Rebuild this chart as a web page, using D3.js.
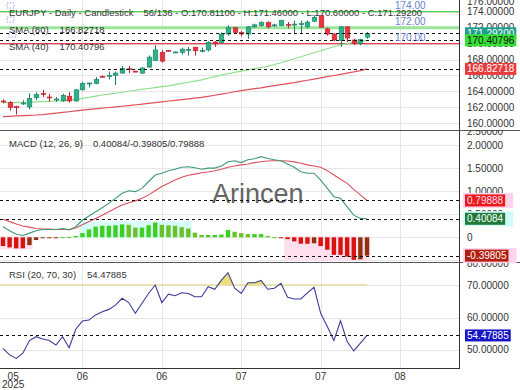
<!DOCTYPE html>
<html><head><meta charset="utf-8">
<script src="https://cdn.jsdelivr.net/npm/d3@7/dist/d3.min.js"></script>
<style>
body{margin:0;background:#fff;}
svg{display:block;font-family:"Liberation Sans",Arial,sans-serif;}
</style></head><body>
<svg id="c" width="520" height="390"></svg>
<script>
// ---------- data ----------
const opens  = [162.8,162.6,162.1,162.5,162.05,163.2,163.75,163.3,163.0,162.8,163.4,162.8,164.2,165.0,165.0,165.9,166.0,166.0,166.3,166.85,166.55,166.3,167.05,167.9,168.9,169.15,168.9,168.9,169.2,169.55,169.1,169.2,170.2,170.15,171.2,172.0,171.4,171.2,172.1,172.25,172.65,172.3,172.25,172.4,172.45,172.45,172.1,172.8,173.5,171.85,171.2,170.4,172.1,170.45,170.0,170.811];
const closes = [162.7,162.0,161.95,162.55,163.1,163.6,163.7,163.25,163.05,163.5,162.8,164.2,165.0,165.05,165.5,165.85,166.0,166.3,166.9,166.75,166.5,166.95,168.3,169.2,167.8,169.1,168.95,169.3,169.25,169.1,169.15,170.15,169.95,171.2,172.0,171.4,171.2,172.1,172.35,172.65,172.1,172.35,172.9,172.35,172.45,172.5,172.7,173.3,172.05,171.2,170.45,172.1,170.7,170.05,170.5,171.292];
const highs  = [163.0,162.8,162.2,162.9,163.75,163.9,164.2,163.7,163.3,163.7,163.9,164.3,165.2,165.1,165.8,166.0,166.5,166.5,167.2,167.2,166.6,167.0,168.5,169.8,169.2,169.2,169.0,169.5,169.6,169.6,169.5,170.3,170.3,171.4,172.3,172.1,171.6,172.2,172.5,172.8,172.8,172.5,173.0,172.7,172.9,172.9,172.9,173.5,173.6,172.0,171.3,172.2,172.2,170.6,170.6,171.46];
const lows   = [162.5,161.6,161.1,162.3,161.75,162.9,163.3,162.7,162.7,162.7,162.6,162.7,164.1,164.5,164.9,165.8,165.5,164.8,166.2,166.3,166.4,166.2,167.0,167.8,167.6,169.0,168.8,168.6,168.5,168.5,168.9,169.0,169.6,170.0,171.0,171.3,170.9,170.6,172.0,172.1,171.9,172.1,172.2,171.9,171.2,171.3,171.9,172.7,172.0,171.0,170.3,169.6,170.2,169.8,169.8,170.60];
const sma40  = [162.58,162.6,162.62,162.64,162.66,162.7,162.73,162.76,162.8,162.85,162.9,163.0,163.12,163.25,163.4,163.55,163.65,163.77,163.9,164.02,164.15,164.25,164.37,164.48,164.6,164.7,164.85,165.0,165.15,165.3,165.45,165.65,165.85,166.05,166.22,166.4,166.55,166.7,166.85,167.0,167.15,167.38,167.6,167.85,168.1,168.35,168.6,168.85,169.1,169.35,169.6,169.85,170.0,170.15,170.3,170.40796];
const sma80  = [160.83,160.87,160.92,160.97,161.0,161.04,161.1,161.18,161.27,161.36,161.45,161.55,161.65,161.74,161.82,161.9,161.98,162.06,162.14,162.22,162.3,162.4,162.5,162.6,162.7,162.8,162.88,162.97,163.06,163.15,163.25,163.38,163.52,163.66,163.8,163.96,164.1,164.22,164.34,164.45,164.6,164.72,164.85,164.98,165.1,165.25,165.4,165.55,165.7,165.85,166.0,166.15,166.3,166.45,166.62,166.82718];
const macdLine   = [0.23,0.14,0.065,0.04,0.09,0.14,0.17,0.17,0.17,0.19,0.16,0.23,0.375,0.46,0.555,0.64,0.74,0.845,0.955,1.01,0.99,1.06,1.21,1.35,1.39,1.445,1.475,1.52,1.53,1.51,1.475,1.50,1.50,1.545,1.64,1.66,1.62,1.68,1.705,1.75,1.71,1.68,1.66,1.59,1.52,1.42,1.39,1.39,1.24,1.06,0.88,0.845,0.66,0.48,0.41,0.40084];
const signalLine = [0.39,0.34,0.29,0.245,0.22,0.19,0.18,0.18,0.17,0.17,0.17,0.20,0.27,0.34,0.41,0.48,0.555,0.63,0.70,0.75,0.79,0.845,0.92,1.01,1.10,1.17,1.24,1.30,1.345,1.37,1.40,1.415,1.445,1.475,1.52,1.545,1.57,1.59,1.62,1.64,1.655,1.66,1.66,1.655,1.635,1.605,1.57,1.545,1.52,1.445,1.35,1.26,1.17,1.04,0.92,0.79888];
const histogram  = [-0.19,-0.22,-0.24,-0.24,-0.17,-0.06,-0.02,-0.01,-0.005,0.003,0.01,0.03,0.09,0.17,0.23,0.25,0.25,0.26,0.28,0.27,0.21,0.21,0.26,0.32,0.27,0.26,0.25,0.22,0.19,0.10,0.05,0.05,0.05,0.06,0.16,0.12,0.09,0.07,0.07,0.07,0.03,0.004,-0.004,-0.04,-0.09,-0.14,-0.14,-0.13,-0.19,-0.27,-0.38,-0.38,-0.42,-0.49,-0.48,-0.39805];
const rsi = [50.5,48.5,47.4,49.0,52.9,54.1,53.4,52.9,51.5,54.1,50.7,56.4,58.9,59.2,60.8,61.8,62.5,63.8,65.9,64.6,61.3,64.4,67.4,70.0,64.6,67.2,66.7,67.6,67.4,66.4,66.4,69.5,68.7,71.5,73.8,69.0,67.4,70.7,70.7,71.4,68.7,69.0,70.5,66.2,65.7,65.7,67.6,69.3,61.3,57.2,52.9,59.0,52.6,49.7,52.1,54.47885];
const histGroups = [[0,4],[12,28],[43,55]];
const priceTicks = [160,162,164,166,168,170,172,174,176];
const macdTicks = [-0.5,0,0.5,1,1.5,2,2.5];
const rsiTicks = [50,60,70,80];
const xTickIdx = [0,12,24,36,48,60];
const xTickLabels = [["05","2025"],["06"],["06"],["07"],["07"],["08"]];
const levelPrices = [174,172,170];
const levelLabels = ["174.00","172.00","170.00"];

// ---------- setup ----------
const svg = d3.select("#c");
const W = 459;
const FS = 9.5;
const P = {price:[0,130], macd:[130,262], rsi:[262,368]};
const x = d3.scaleLinear().domain([-0.45, 68.9]).range([0, W]);
const yP = d3.scaleLinear().domain([159.16,175.47]).range([130,0]);
const yM = d3.scaleLinear().domain([-0.536,2.327]).range([262,130]);
const yR = d3.scaleLinear().domain([44.46,77.08]).range([368,262]);
const idx = d3.range(closes.length);
const step = x(1)-x(0);

const defs = svg.append("defs");
function clip(id,x0,y0,w,h){defs.append("clipPath").attr("id",id).append("rect").attr("x",x0).attr("y",y0).attr("width",w).attr("height",h);}
clip("cp",0,P.price[0],W,P.price[1]-P.price[0]);
clip("cm",0,P.macd[0],W,P.macd[1]-P.macd[0]);
clip("cr",0,P.rsi[0],W,P.rsi[1]-P.rsi[0]);
clip("ap",460,P.price[0],60,P.price[1]-P.price[0]);
clip("am",460,P.macd[0],60,P.macd[1]-P.macd[0]);
clip("ar",460,P.rsi[0],60,P.rsi[1]-P.rsi[0]);
clip("rsiAbove",0,P.rsi[0],W,yR(70)-P.rsi[0]);

svg.append("rect").attr("width",520).attr("height",390).attr("fill","#fff");

// grid
const grid = svg.append("g").attr("stroke","#e6e6e6").attr("stroke-width",1);
xTickIdx.slice(1).forEach(i=>{
  grid.append("line").attr("x1",Math.round(x(i))+0.5).attr("x2",Math.round(x(i))+0.5).attr("y1",0).attr("y2",368);
});
function hgrid(ticks,scale,cp){
  const g=svg.append("g").attr("clip-path",`url(#${cp})`).attr("stroke","#e6e6e6");
  ticks.forEach(t=>g.append("line").attr("x1",0).attr("x2",W).attr("y1",Math.round(scale(t))+0.5).attr("y2",Math.round(scale(t))+0.5));
}
hgrid(priceTicks,yP,"cp"); hgrid(macdTicks,yM,"cm"); hgrid(rsiTicks,yR,"cr");

// ---------- price panel ----------
const gp = svg.append("g").attr("clip-path","url(#cp)");
const levelStyles = [{c:"#4fd84f",w:1.2},{c:"#9be59b",w:3},{c:"#e0404e",w:1.2}];
levelPrices.forEach((p,k)=>{
  gp.append("line").attr("x1",0).attr("x2",W).attr("y1",yP(p)).attr("y2",yP(p))
    .attr("stroke",levelStyles[k].c).attr("stroke-width",levelStyles[k].w);
});
const lineP = s=>d3.line().x((d,i)=>x(i)).y(d=>yP(d))(s);
gp.append("path").attr("d",lineP(sma80)).attr("fill","none").attr("stroke","#e0505a").attr("stroke-width",1.2);
gp.append("path").attr("d",lineP(sma40)).attr("fill","none").attr("stroke","#8ee08a").attr("stroke-width",1.2);

const bw = 4.6;
idx.forEach(i=>{
  const up = closes[i]>=opens[i];
  const fill = up?"#2bb38c":"#e8343f";
  const edge = up?"#1f7d63":"#b8242e";
  const cx = Math.round(x(i))+0.5;
  gp.append("line").attr("x1",cx).attr("x2",cx).attr("y1",yP(highs[i])).attr("y2",yP(lows[i])).attr("stroke",edge).attr("stroke-width",1);
  const y1 = yP(Math.max(opens[i],closes[i])), y2 = yP(Math.min(opens[i],closes[i]));
  gp.append("rect").attr("x",cx-bw/2).attr("y",y1).attr("width",bw).attr("height",Math.max(1,y2-y1))
    .attr("fill",fill).attr("stroke",edge).attr("stroke-width",0.6);
});
[closes[closes.length-1], sma40[sma40.length-1], sma80[sma80.length-1]].forEach(v=>{
  gp.append("line").attr("x1",0).attr("x2",W).attr("y1",Math.round(yP(v))+0.5).attr("y2",Math.round(yP(v))+0.5)
    .attr("stroke","#111").attr("stroke-dasharray","3,3");
});
levelPrices.forEach((p,k)=>{
  svg.append("text").attr("x",395).attr("y",yP(p)-2.5).attr("font-size",FS+0.5).attr("fill","#6a7fd0").text(levelLabels[k]);
});

// ---------- MACD panel ----------
const gm = svg.append("g").attr("clip-path","url(#cm)");
histGroups.forEach(([a,b])=>{
  const vals = histogram.slice(a,b+1);
  const ext = vals[0]>=0 ? d3.max(vals) : d3.min(vals);
  const top = Math.min(yM(0),yM(ext)), h = Math.abs(yM(ext)-yM(0));
  gm.append("rect").attr("x",x(a)-step/2).attr("y",top-1).attr("width",x(b)-x(a)+step).attr("height",h+2)
    .attr("fill",vals[0]>=0?"#d6fbf8":"#fde0ee");
});
idx.forEach(i=>{
  const v = histogram[i], prev = i>0?histogram[i-1]:0;
  let col;
  if(v>=0) col = v>=prev?"#3fcf22":"#6cc02a";
  else col = v<=prev?"#d8120c":"#8e3210";
  const y0=yM(0), y1=yM(v);
  gm.append("rect").attr("x",x(i)-2.2).attr("width",4.4).attr("y",Math.min(y0,y1)).attr("height",Math.max(1,Math.abs(y1-y0))).attr("fill",col);
});
gm.append("text").attr("x",212).attr("y",203).attr("font-size",27).attr("fill","#555").attr("opacity",0.9).text("Arincen");
const lineM = s=>d3.line().x((d,i)=>x(i)).y(d=>yM(d))(s);
gm.append("path").attr("d",lineM(signalLine)).attr("fill","none").attr("stroke","#dd4f5e").attr("stroke-width",1.1);
gm.append("path").attr("d",lineM(macdLine)).attr("fill","none").attr("stroke","#3f9a72").attr("stroke-width",1.1);
[signalLine[55], macdLine[55], histogram[55]].forEach(v=>{
  gm.append("line").attr("x1",0).attr("x2",W).attr("y1",Math.round(yM(v))+0.5).attr("y2",Math.round(yM(v))+0.5)
    .attr("stroke","#111").attr("stroke-dasharray","3,3");
});

// ---------- RSI panel ----------
const gr = svg.append("g").attr("clip-path","url(#cr)");
gr.append("path").attr("clip-path","url(#rsiAbove)")
  .attr("d",d3.area().x((d,i)=>x(i)).y0(yR(70)).y1(d=>yR(d))(rsi)).attr("fill","#ecd865").attr("opacity",0.9);
gr.append("line").attr("x1",0).attr("x2",x(55)).attr("y1",yR(70)).attr("y2",yR(70)).attr("stroke","#e8df9c").attr("stroke-width",1.6);
gr.append("path").attr("d",d3.line().x((d,i)=>x(i)).y(d=>yR(d))(rsi)).attr("fill","none").attr("stroke","#3c3c98").attr("stroke-width",1.1);
gr.append("line").attr("x1",0).attr("x2",W).attr("y1",Math.round(yR(rsi[55]))+0.5).attr("y2",Math.round(yR(rsi[55]))+0.5)
  .attr("stroke","#111").attr("stroke-dasharray","3,3");

// ---------- legends ----------
function legend(xp,y,a,b,gap){
  const t=svg.append("text").attr("x",xp).attr("y",y).attr("font-size",FS).attr("fill","#333").text(a);
  const w=t.node().getComputedTextLength();
  svg.append("text").attr("x",xp+w+gap).attr("y",y).attr("font-size",FS).attr("fill","#333").text(b);
}
legend(9,16,"EURJPY - Daily - Candlestick","56/136 - O:170.81100 - H:171.46000 - L:170.60000 - C:171.29200",10);
legend(9,32.7,"SMA (80)","166.82718",11);
legend(9,50,"SMA (40)","170.40796",11);
legend(9,147,"MACD (12, 26, 9)","0.40084/-0.39805/0.79888",10);
legend(9,277.5,"RSI (20, 70, 30)","54.47885",11);
[[7,3],[7,17],[9,32]].forEach(([a,b])=>{
  svg.append("rect").attr("x",a).attr("y",b).attr("width",7).attr("height",5).attr("fill","none")
    .attr("stroke","#7c8ee0").attr("stroke-dasharray","1.5,1.5").attr("stroke-width",0.8);
});

// ---------- frame ----------
svg.append("line").attr("x1",459.5).attr("x2",459.5).attr("y1",0).attr("y2",368).attr("stroke","#333");
svg.append("line").attr("x1",0).attr("x2",460).attr("y1",368.5).attr("y2",368.5).attr("stroke","#333");
[130,262].forEach(y=>svg.append("line").attr("x1",0).attr("x2",520).attr("y1",y+0.5).attr("y2",y+0.5).attr("stroke","#555"));

// ---------- y axis labels ----------
function ylabels(ticks,scale,range,cp,fmt){
  const g=svg.append("g").attr("clip-path",`url(#${cp})`);
  ticks.forEach(t=>{
    let y=scale(t);
    if(y<range[0]&&y>range[0]-12) y=range[0]+1;
    g.append("text").attr("x",467).attr("y",y).attr("dy","0.35em").attr("font-size",FS+0.5).attr("fill","#333").text(fmt(t));
  });
}
ylabels(priceTicks,yP,P.price,"ap",t=>t.toFixed(5));
ylabels(macdTicks,yM,P.macd,"am",t=>t===0?"0":t.toFixed(5));
ylabels(rsiTicks,yR,P.rsi,"ar",t=>t.toFixed(5));

function box(y,txt,bg,fg,halo){
  const t=svg.append("text").attr("x",467).attr("y",y).attr("dy","0.35em").attr("font-size",FS+0.5).attr("fill",fg).text(txt);
  const w=t.node().getComputedTextLength();
  if(halo) svg.insert("rect",()=>t.node()).attr("x",463).attr("y",y-7.5).attr("width",w+14).attr("height",15).attr("fill",halo);
  svg.insert("rect",()=>t.node()).attr("x",465).attr("y",y-6).attr("width",w+4).attr("height",12).attr("fill",bg);
}
box(yP(closes[55]),"171.29200","#1e9e8a","#fff");
box(yP(sma40[55]),"170.40796","#36e036","#111");
box(yP(sma80[55]),"166.82718","#e83c3c","#fff");
box(yM(signalLine[55]),"0.79888","#e81a1a","#fde","#ffd3ec");
box(yM(macdLine[55]),"0.40084","#1f7a3a","#fff","#cffcfb");
box(yM(histogram[55]),"-0.39805","#b41e10","#fff","#ffd3ec");
box(yR(rsi[55]),"54.47885","#1515c4","#fff");

// ---------- x axis ----------
xTickIdx.forEach((i,k)=>{
  const lines = xTickLabels[k];
  let cx = x(i);
  const tmp = svg.append("g");
  lines.forEach((s,j)=>{
    tmp.append("text").attr("x",cx).attr("y",379.5+j*8.5).attr("text-anchor","middle").attr("font-size",FS+0.5).attr("fill","#333").text(s);
  });
  const bb = tmp.node().getBBox();
  if(bb.x<2) tmp.attr("transform",`translate(${2-bb.x},0)`);
});
</script>
</body></html>
